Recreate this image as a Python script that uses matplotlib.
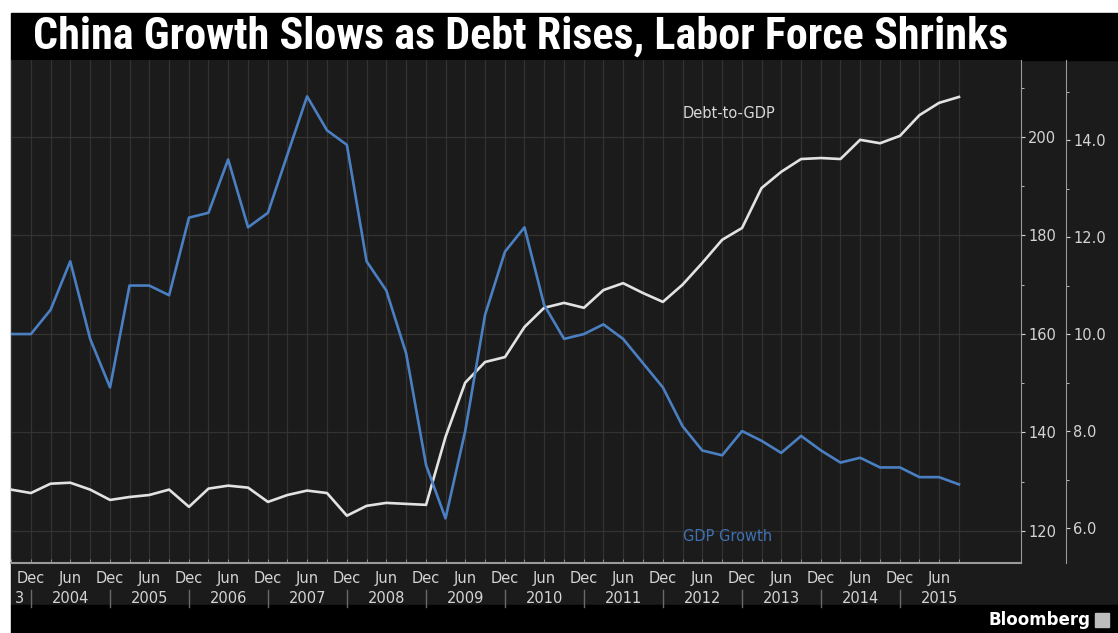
import matplotlib.pyplot as plt
import numpy as np
import pandas as pd
from matplotlib.patches import Rectangle
from matplotlib import font_manager as fm

# quarterly data, Q3 2003 .. Q3 2015
quarters = pd.period_range('2003Q3', '2015Q3', freq='Q').to_timestamp(how='end').normalize()

gdp_growth = [10.0, 10.0, 10.5, 11.5, 9.9, 8.9, 11.0, 11.0, 10.8, 12.4, 12.5, 13.6, 12.2,
              12.5, 13.7, 14.9, 14.2, 13.9, 11.5, 10.9, 9.6, 7.3, 6.2, 8.0, 10.4, 11.7,
              12.2, 10.6, 9.9, 10.0, 10.2, 9.9, 9.4, 8.9, 8.1, 7.6, 7.5, 8.0, 7.8, 7.55,
              7.9, 7.6, 7.35, 7.45, 7.25, 7.25, 7.05, 7.05, 6.9]

debt_to_gdp = [128.4, 127.7, 129.6, 129.8, 128.4, 126.3, 126.9, 127.3, 128.4, 124.9, 128.6,
               129.2, 128.8, 125.9, 127.3, 128.2, 127.7, 123.1, 125.1, 125.7, 125.5, 125.3,
               139.1, 150.1, 154.3, 155.3, 161.4, 165.3, 166.3, 165.3, 168.9, 170.3, 168.3,
               166.5, 170.0, 174.4, 179.1, 181.5, 189.6, 192.9, 195.5, 195.7, 195.5, 199.4,
               198.7, 200.2, 204.4, 206.9, 208.1]

debt_ticks = [120, 140, 160, 180, 200]
gdp_ticks = [6.0, 8.0, 10.0, 12.0, 14.0]
years = list(range(2003, 2016))

# pick a narrow bold font for the title if one is installed
installed = {(f.name, f.stretch) for f in fm.fontManager.ttflist}
title_font = dict(family='DejaVu Sans')
for name in ['Liberation Sans Narrow', 'Roboto Condensed', 'Open Sans Condensed']:
    if any(n == name for n, _ in installed):
        title_font = dict(family=name)
        break
else:
    if ('DejaVu Sans', 'condensed') in installed:
        title_font = dict(family='DejaVu Sans', stretch='condensed')

W, H = 1118, 633
fig = plt.figure(figsize=(W / 100, H / 100), dpi=100, facecolor='white')

def px(x, y):
    return x / W, 1 - y / H

# background bands
fig.add_artist(Rectangle(px(11, 605), 1 - 11 / W, 545 / H, transform=fig.transFigure,
                         color='#1b1b1b', zorder=0))
fig.add_artist(Rectangle(px(11, 60), 1 - 11 / W, 47 / H, transform=fig.transFigure,
                         color='black', zorder=0))
fig.add_artist(Rectangle(px(11, 633), 1 - 11 / W, 28 / H, transform=fig.transFigure,
                         color='black', zorder=0))

left, right, top, bottom = 11, 1021, 60, 563
ax = fig.add_axes([left / W, 1 - bottom / H, (right - left) / W, (bottom - top) / H])
ax.set_facecolor('#1b1b1b')
ax2 = ax.twinx()

txt = '#d4d4d4'
axis_col = '#9a9a9a'
grid_col = '#353230'

# lines
ax.plot(quarters, debt_to_gdp, color='#e2e2e2', lw=1.9, zorder=3)
ax2.plot(quarters, gdp_growth, color='#4a7fc2', lw=1.9, zorder=3)

xmin = quarters[0]
xmax = quarters[0] + (quarters[-1] - quarters[0]) * (51.14 / 48)
ax.set_xlim(xmin, xmax)
ax.set_ylim(113.5, 215.6)
ax2.set_ylim(5.28, 15.65)

# spines
for s in ['left', 'top']:
    ax.spines[s].set_visible(False)
    ax2.spines[s].set_visible(False)
ax2.spines['bottom'].set_visible(False)
ax.spines['right'].set_color(axis_col)
ax.spines['bottom'].set_color(axis_col)
ax.spines['bottom'].set_linewidth(1.5)
ax2.spines['right'].set_position(('axes', (1066 - left) / (right - left)))
ax2.spines['right'].set_color(axis_col)

# y axes
ax.yaxis.tick_right()
ax.set_yticks(debt_ticks)
ax.set_yticks([130, 150, 170, 190, 210], minor=True)
ax.tick_params(axis='y', which='both', colors=txt, labelsize=10.5, length=3, pad=2,
               left=False, right=True)
ax.tick_params(axis='y', which='minor', length=2)
ax2.set_yticks(gdp_ticks)
ax2.set_yticklabels([f'{v:.1f}' for v in gdp_ticks])
ax2.set_yticks([7, 9, 11, 13, 15], minor=True)
ax2.tick_params(axis='y', which='both', colors=txt, labelsize=10.5, length=3, pad=2)
ax2.tick_params(axis='y', which='minor', length=2)
ax.grid(axis='y', which='major', color=grid_col, lw=0.9)

# x axis: quarterly grid, Dec/Jun labels
ax.xaxis.remove_overlapping_locs = False
ax.set_xticks(quarters, minor=True)
label_q = [q for q in quarters if q.month in (6, 12)]
ax.set_xticks(label_q)
ax.set_xticklabels([q.strftime('%b') for q in label_q])
ax.tick_params(axis='x', which='major', length=0, pad=6, colors=txt, labelsize=10.5)
ax.tick_params(axis='x', which='minor', direction='in', length=3, color=axis_col)
ax.grid(axis='x', which='minor', color=grid_col, lw=0.9)

# year row
trans = ax.get_xaxis_transform()
for y in years:
    y0 = max(pd.Timestamp(f'{y - 1}-12-31'), xmin)
    y1 = min(pd.Timestamp(f'{y}-12-31'), xmax)
    if y == years[0]:
        ax.text(0.004, -0.07, str(y)[-1], transform=ax.transAxes, ha='left', va='center',
                color=txt, fontsize=10.5)
    else:
        ax.text(y0 + (y1 - y0) / 2, -0.07, str(y), transform=trans, ha='center',
                va='center', color=txt, fontsize=10.5)
        ax.plot([y0, y0], [-0.053, -0.087], transform=trans, color='#6a6a6a', lw=1,
                clip_on=False)

# series labels
ax.text(quarters[34], 204.8, 'Debt-to-GDP', color='#d8d8d8', fontsize=10.5,
        ha='left', va='center')
ax.text(quarters[34], 118.8, 'GDP Growth', color='#3f72b4', fontsize=10.5,
        ha='left', va='center')

# title, sized to span the same width as the original
title = fig.text(33 / W, 1 - 37 / H, 'China Growth Slows as Debt Rises, Labor Force Shrinks',
                 color='white', fontsize=25, fontweight='bold', va='center', **title_font)
renderer = fig.canvas.get_renderer()
w = title.get_window_extent(renderer).width
title.set_fontsize(25 * 977 / w)

fig.text(1090 / W, 1 - 620 / H, 'Bloomberg', color='white', fontsize=12, fontweight='bold',
         ha='right', va='center')
fig.add_artist(Rectangle(px(1095, 627), 14 / W, 14 / H, transform=fig.transFigure,
                         color='#bdbdbd', zorder=2))

fig.savefig('out.png', dpi=100, facecolor=fig.get_facecolor())
